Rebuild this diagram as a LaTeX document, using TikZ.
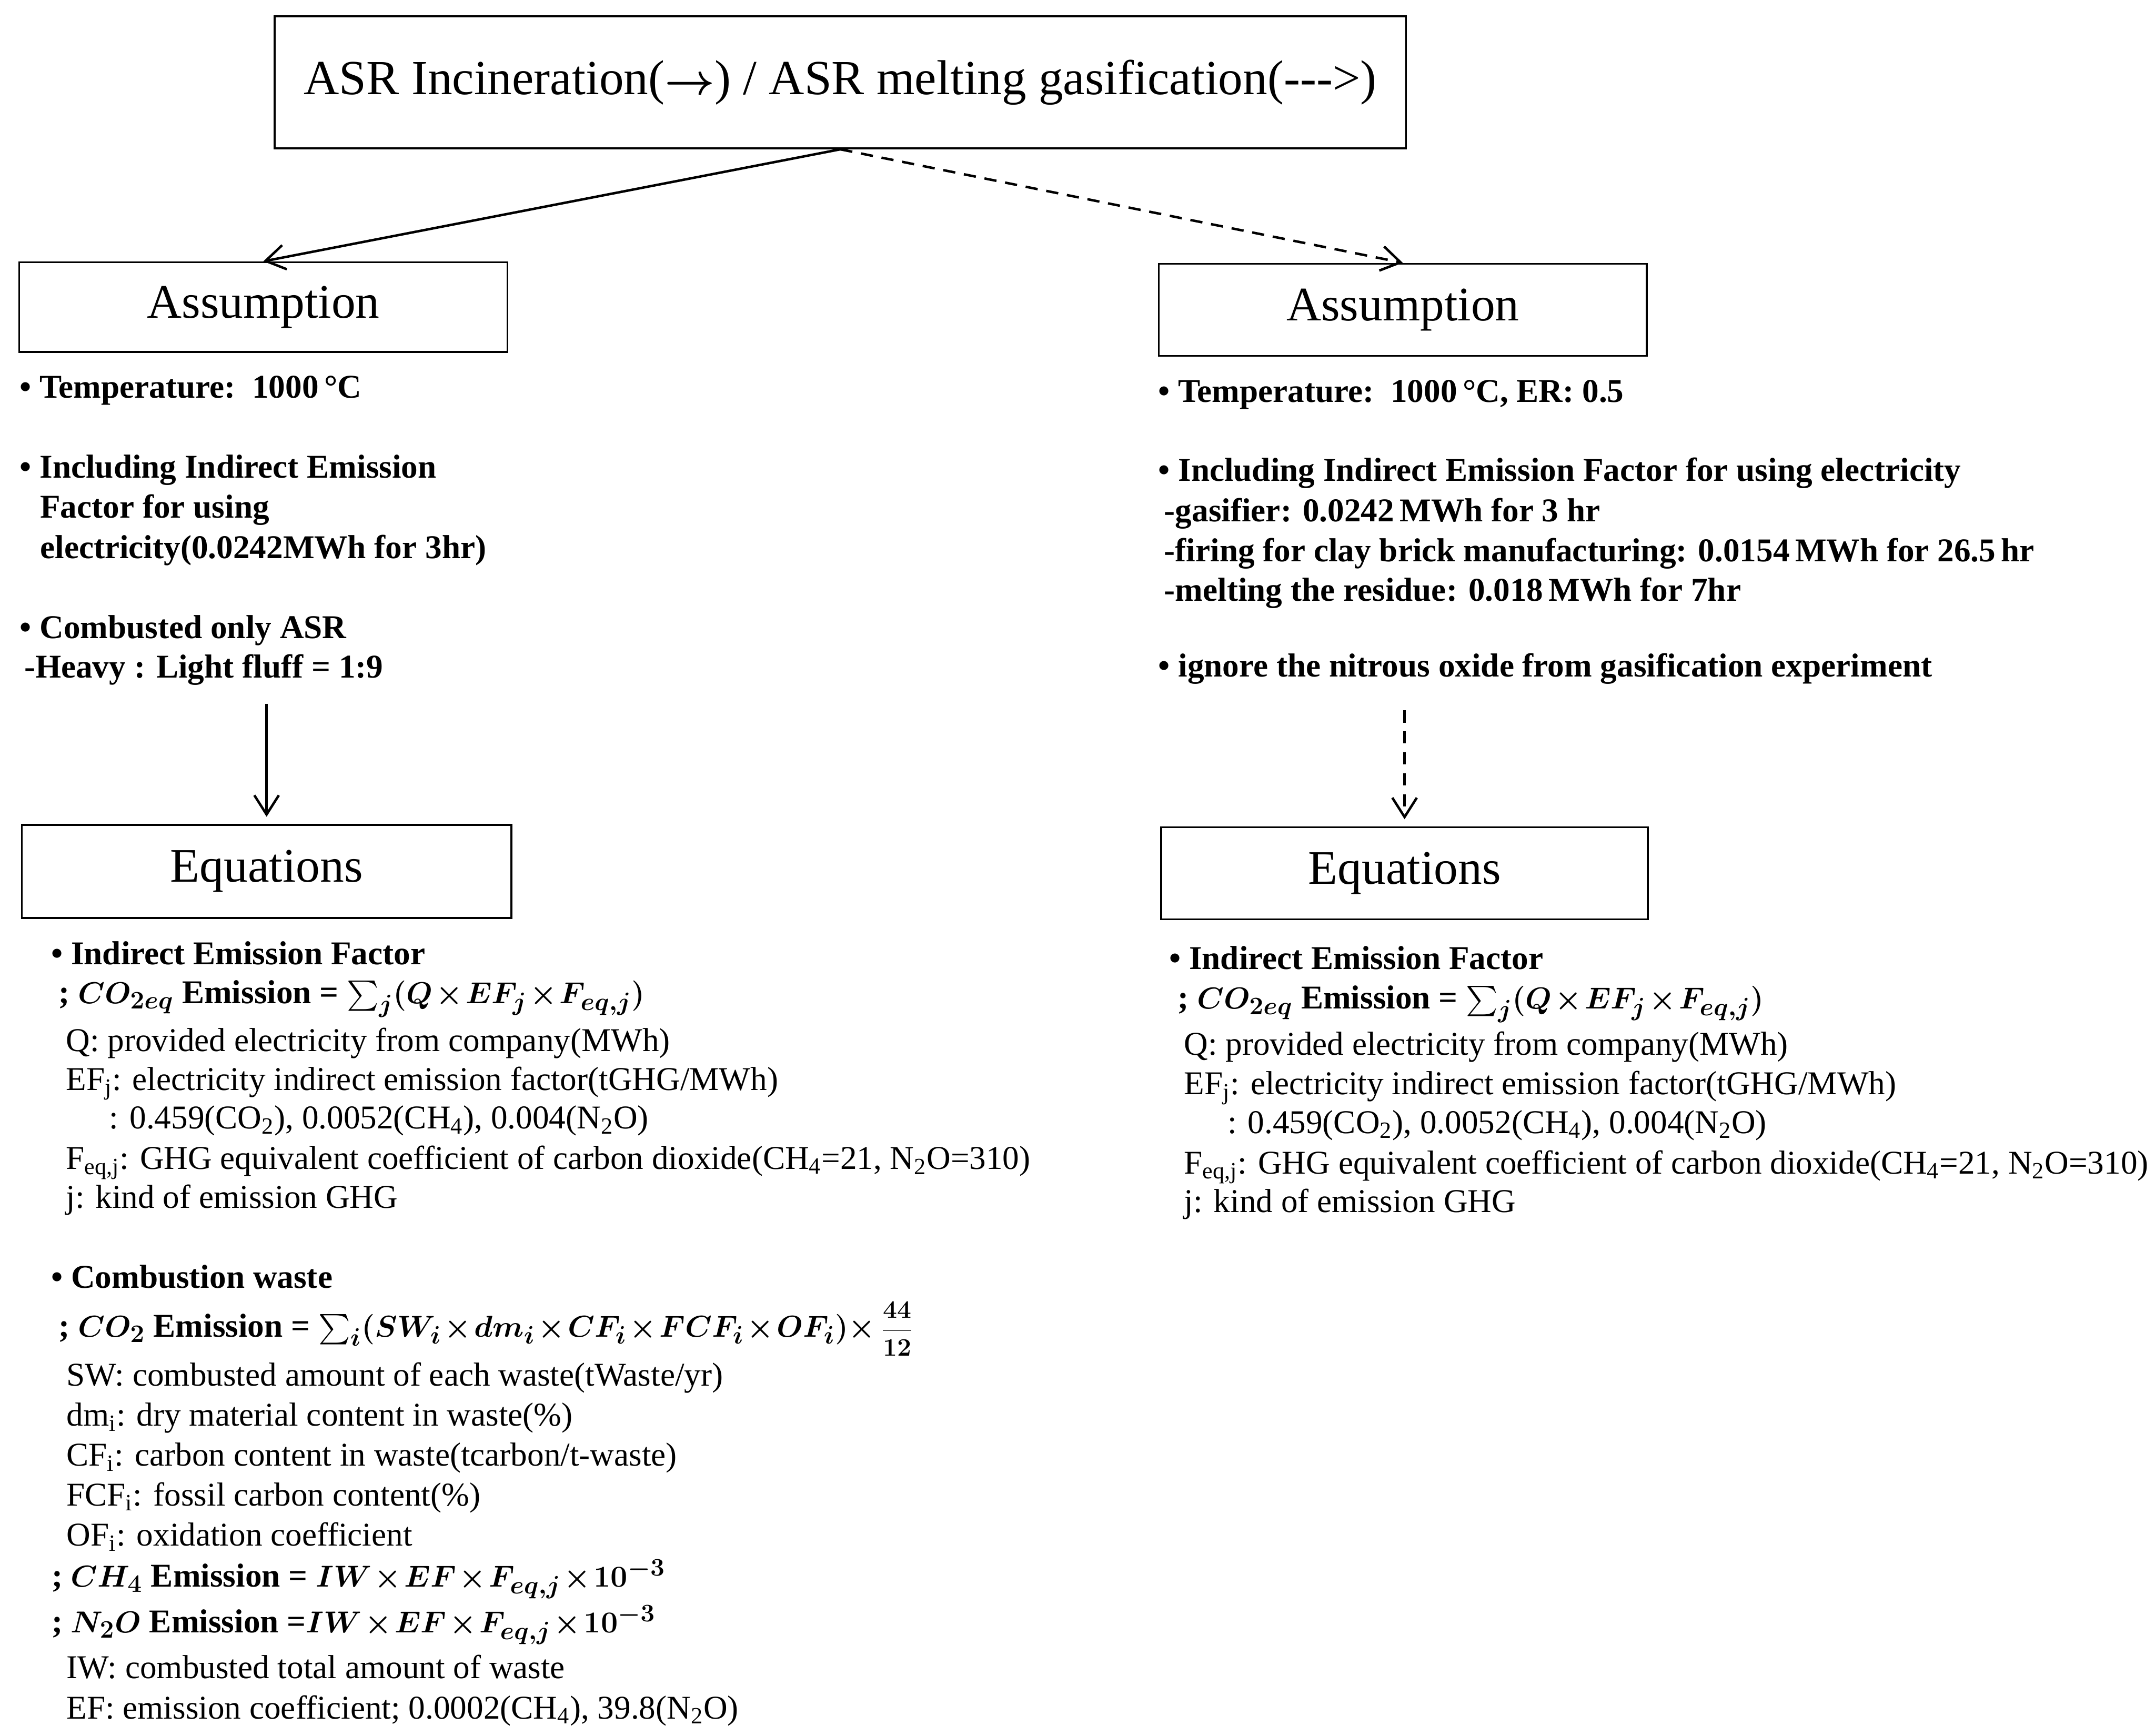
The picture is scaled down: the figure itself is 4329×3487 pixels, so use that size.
\documentclass[tikz,border=0pt]{standalone}
\usepackage{fontspec}
\usepackage{amsmath}
\setmainfont{Liberation Serif}
\usetikzlibrary{arrows.meta}
\newcommand{\tightops}{\medmuskip=1.5mu\relax}
\begin{document}
\begin{tikzpicture}[x=0.01cm,y=-0.01cm,
  box/.style={draw,line width=1.1pt,inner sep=0pt,font=\fontsize{27.5}{33}\selectfont},
  arr/.style={line width=1.4pt,-{Straight Barb[length=11pt,width=14pt]}},
  darr/.style={arr,dash pattern=on 7pt off 5pt},
  bt/.style={anchor=base west,inner sep=0pt,font=\fontsize{19}{23}\selectfont\bfseries},
  nt/.style={anchor=base west,inner sep=0pt,font=\fontsize{19}{23}\selectfont},
  et/.style={anchor=base west,inner sep=0pt,font=\fontsize{19}{23}\selectfont\bfseries\boldmath}]
\useasboundingbox (0,0) rectangle (4329,3487);
% boxes
\node[box,minimum width=22.72cm,minimum height=2.65cm,font=\fontsize{28}{34}\selectfont] (top) at (1688,165.5)
  {ASR Incineration({\boldmath$\rightarrow$}) / ASR melting gasification({-}{-}{-}>)};
\node[box,minimum width=9.80cm,minimum height=1.80cm] (la) at (529,617) {Assumption};
\node[box,minimum width=9.80cm,minimum height=1.85cm] (ra) at (2818,622.5) {Assumption};
\node[box,minimum width=9.83cm,minimum height=1.87cm] (le) at (535.5,1750.5) {Equations};
\node[box,minimum width=9.77cm,minimum height=1.85cm] (re) at (2821.5,1754.5) {Equations};
% connectors
\draw[arr] (top.south) -- (la.north);
\draw[darr] (top.south) -- (ra.north);
\coordinate (lstart) at (535.5,1414);
\coordinate (rstart) at (2821.5,1427);
\draw[arr,shorten >=4pt] (lstart) -- (le.north);
\draw[darr,shorten >=4pt] (rstart) -- (re.north);
% left assumptions
\node[bt] (la1) at (39,800) {• Temperature:\ \ 1000\,°C};
\node[bt] (la2) at (39,960) {• Including Indirect Emission};
\node[bt] (la3) at (80,1041) {Factor for using};
\node[bt] (la4) at (80,1122) {electricity(0.0242MWh for 3hr)};
\node[bt] (la5) at (39,1283) {• Combusted only ASR};
\node[bt] (la6) at (48,1362) {-Heavy : Light fluff = 1:9};
% right assumptions
\node[bt] (ra1) at (2326,808) {• Temperature:\ \ 1000\,°C, ER: 0.5};
\node[bt] (ra2) at (2326,967) {• Including Indirect Emission Factor for using electricity};
\node[bt] (ra3) at (2338,1048) {-gasifier: 0.0242\,MWh for 3 hr};
\node[bt] (ra4) at (2338,1128) {-firing for clay brick manufacturing: 0.0154\,MWh for 26.5\,hr};
\node[bt] (ra5) at (2338,1207) {-melting the residue: 0.018\,MWh for 7hr};
\node[bt] (ra6) at (2326,1360) {• ignore the nitrous oxide from gasification experiment};
% left equations
\node[bt] (le1) at (102,1938) {• Indirect Emission Factor};
\node[et] (le2) at (117,2016) {; $\tightops CO_{2eq}$ Emission = $\tightops\sum_j(Q\times EF_j\times F_{eq,j})$};
\node[nt] (le3) at (132,2112) {Q: provided electricity from company(MWh)};
\node[nt] (le4) at (132,2190) {EF\textsubscript{j}: electricity indirect emission factor(tGHG/MWh)};
\node[nt] (le5) at (219,2268) {: 0.459(CO\textsubscript{2}), 0.0052(CH\textsubscript{4}), 0.004(N\textsubscript{2}O)};
\node[nt] (le6) at (132,2349) {F\textsubscript{eq,j}: GHG equivalent coefficient of carbon dioxide(CH\textsubscript{4}=21, N\textsubscript{2}O=310)};
\node[nt] (le7) at (132,2427) {j: kind of emission GHG};
\node[bt] (le8) at (102,2588) {• Combustion waste};
\node[et] (le9) at (117,2686) {; $CO_2$ Emission = $\tightops\sum_i(SW_i\times dm_i\times CF_i\times FCF_i\times OF_i)\times$\,{\fontsize{14}{16}\selectfont$\dfrac{44}{12}$}};
\node[nt] (le10) at (133,2784) {SW: combusted amount of each waste(tWaste/yr)};
\node[nt] (le11) at (133,2865) {dm\textsubscript{i}: dry material content in waste(\%)};
\node[nt] (le12) at (133,2945) {CF\textsubscript{i}: carbon content in waste(tcarbon/t-waste)};
\node[nt] (le13) at (133,3025) {FCF\textsubscript{i}: fossil carbon content(\%)};
\node[nt] (le14) at (133,3106) {OF\textsubscript{i}: oxidation coefficient};
\node[et] (le15) at (103,3188) {; $CH_4$ Emission = $\tightops IW\times EF\times F_{eq,j}\times 10^{-3}$};
\node[et] (le16) at (103,3280) {; $N_2O$ Emission =$\tightops IW\times EF\times F_{eq,j}\times 10^{-3}$};
\node[nt] (le17) at (133,3372) {IW: combusted total amount of waste};
\node[nt] (le18) at (133,3453) {EF: emission coefficient; 0.0002(CH\textsubscript{4}), 39.8(N\textsubscript{2}O)};
% right equations
\node[bt] (re1) at (2348,1947) {• Indirect Emission Factor};
\node[et] (re2) at (2365,2027) {; $CO_{2eq}$ Emission = $\tightops\sum_j(Q\times EF_j\times F_{eq,j})$};
\node[nt] (re3) at (2378,2120) {Q: provided electricity from company(MWh)};
\node[nt] (re4) at (2378,2199) {EF\textsubscript{j}: electricity indirect emission factor(tGHG/MWh)};
\node[nt] (re5) at (2465,2277) {: 0.459(CO\textsubscript{2}), 0.0052(CH\textsubscript{4}), 0.004(N\textsubscript{2}O)};
\node[nt] (re6) at (2378,2358) {F\textsubscript{eq,j}: GHG equivalent coefficient of carbon dioxide(CH\textsubscript{4}=21, N\textsubscript{2}O=310)};
\node[nt] (re7) at (2378,2436) {j: kind of emission GHG};
\end{tikzpicture}
\end{document}
